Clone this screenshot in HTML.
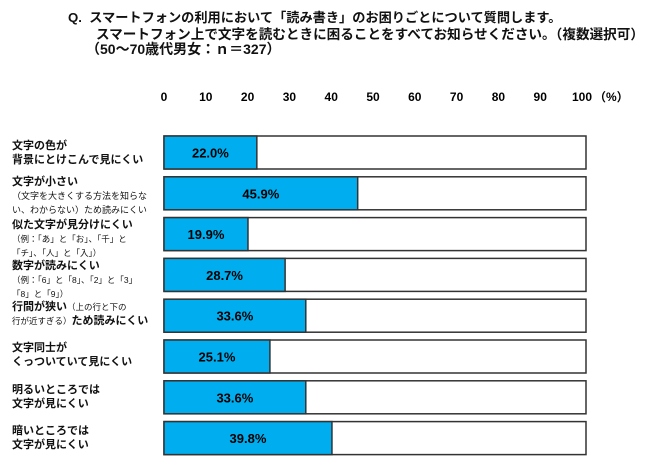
<!DOCTYPE html>
<html><head><meta charset="utf-8">
<style>
body{margin:0;background:#fff;width:650px;height:464px;overflow:hidden;position:relative;font-family:"Liberation Sans","Noto Sans CJK JP",sans-serif;font-weight:bold;color:#111}
.t{position:absolute;white-space:nowrap}
.lab{position:absolute;left:12px;font-size:11px;line-height:14px;white-space:nowrap}
.sm{font-size:8.5px;line-height:11px;font-weight:normal}
</style></head><body>
<div class="t" style="left:68px;top:7px;font-size:13.2px">Q.&nbsp;&nbsp;スマートフォンの利用において「読み書き」のお困りごとについて質問します。</div>
<div class="t" style="left:96px;top:23px;font-size:13.6px">スマートフォン上で文字を読むときに困ることをすべてお知らせください。（複数選択可）</div>
<div class="t" style="left:86px;top:39px;font-size:14px">（50～70歳代男女：ｎ＝327）</div>
<svg id="chart" width="650" height="464" style="position:absolute;left:0;top:0"></svg>
<div class="lab" style="top:139px">文字の色が<br>背景にとけこんで見にくい</div>
<div class="lab" style="top:175px">文字が小さい<br><span style="font-size:9px;line-height:12px;font-weight:normal">（文字を大きくする方法を知らな<br>い、わからない）ため読みにくい</span></div>
<div class="lab" style="top:218px">似た文字が見分けにくい<br><span class="sm">（例：「あ」と「お」、「千」と<br>「チ」、「人」と「入」）</span></div>
<div class="lab" style="top:259px">数字が読みにくい<br><span class="sm">（例：「6」と「8」、「2」と「3」<br>「8」と「9」）</span></div>
<div class="lab" style="top:300px">行間が狭い<span class="sm">（上の行と下の</span><br><span class="sm">行が近すぎる）</span>ため読みにくい</div>
<div class="lab" style="top:341px">文字同士が<br>くっついていて見にくい</div>
<div class="lab" style="top:383px">明るいところでは<br>文字が見にくい</div>
<div class="lab" style="top:424px">暗いところでは<br>文字が見にくい</div>
<script>
const categories=["color","small","similar","numbers","spacing","crowded","bright","dark"];
const values=[22.0,45.9,19.9,28.7,33.6,25.1,33.6,39.8];
const ticks=[0,10,20,30,40,50,60,70,80,90,100];
const svg=document.getElementById('chart');
const NS='http://www.w3.org/2000/svg';
const x0=164,xMax=586;
function x(v){return x0+(xMax-x0)*v/100;}
function rowY(i){return 136+i*40.8;}
const BH=33;
ticks.forEach(t=>{
  const tx=document.createElementNS(NS,'text');
  
  
  tx.setAttribute('x',x0+(582-x0)*t/100);tx.setAttribute('y',101);
  tx.setAttribute('text-anchor','middle');tx.setAttribute('font-size','12');tx.setAttribute('font-weight','bold');
  tx.textContent=t;svg.appendChild(tx);
});
const pct=document.createElementNS(NS,'text');


pct.setAttribute('x',594);pct.setAttribute('y',101);pct.setAttribute('font-size','12');
pct.textContent='（%）';svg.appendChild(pct);
values.forEach((v,i)=>{
  const y=rowY(i);
  const f=document.createElementNS(NS,'rect');
  
  
  f.setAttribute('x',x0);f.setAttribute('y',y);f.setAttribute('width',x(100)-x0);f.setAttribute('height',BH);
  f.setAttribute('fill','#fff');f.setAttribute('stroke','#333');f.setAttribute('stroke-width','1.5');
  svg.appendChild(f);
  const b=document.createElementNS(NS,'rect');
  
  
  b.setAttribute('x',x0);b.setAttribute('y',y);b.setAttribute('width',x(v)-x0);b.setAttribute('height',BH);
  b.setAttribute('fill','#00aeef');b.setAttribute('stroke','#333');b.setAttribute('stroke-width','1.5');
  svg.appendChild(b);
  const t=document.createElementNS(NS,'text');
  
  
  t.setAttribute('x',(x0+x(v))/2);t.setAttribute('y',y+BH/2+5);
  t.setAttribute('text-anchor','middle');t.setAttribute('font-size','13');t.setAttribute('font-weight','bold');
  t.textContent=v.toFixed(1)+'%';svg.appendChild(t);
});
</script>
</body></html>
